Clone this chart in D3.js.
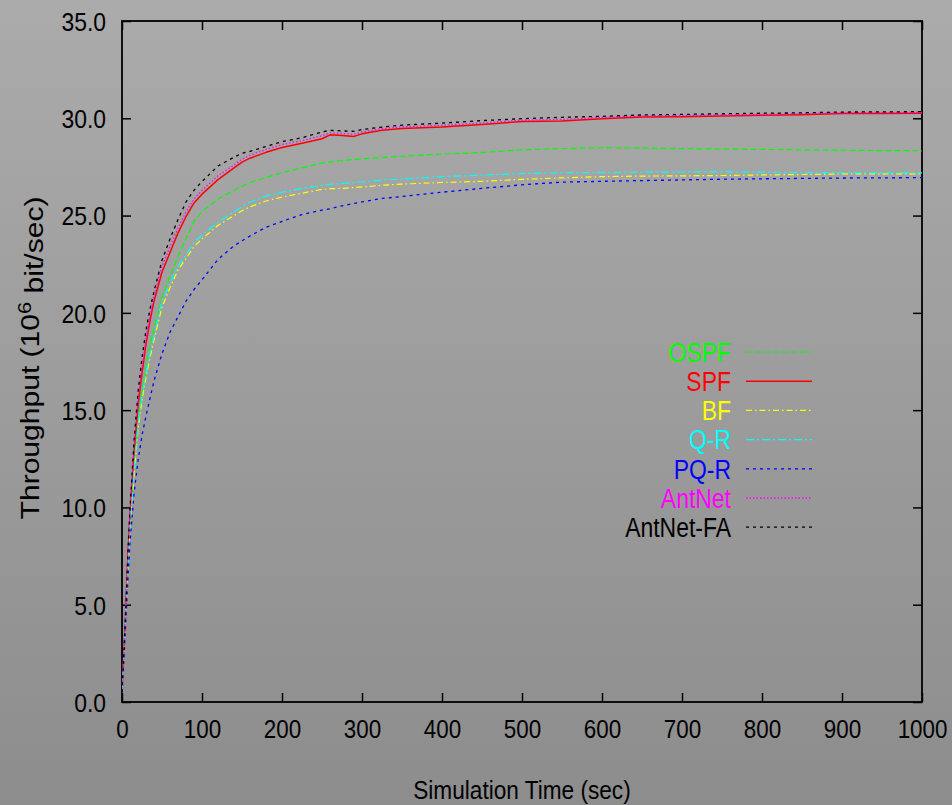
<!DOCTYPE html>
<html><head><meta charset="utf-8">
<script src="https://cdn.jsdelivr.net/npm/d3@7"></script>
<style>html,body{margin:0;padding:0;background:#9c9c9c;} svg{display:block}</style>
</head><body><svg id="chart" width="952" height="805"></svg>
<script>
// ---- data ----
const times = [0,2.5,5,7.5,10,15,20,25,30,35,40,50,60,70,80,90,100,120,140,150,160,180,200,225,250,260,275,290,300,325,350,400,450,500,550,600,650,700,750,800,850,900,950,1000];
const ospf = [0.5,2.6,4.9,7.3,9.3,12.2,14.5,16.0,17.3,18.3,19.2,20.8,21.9,22.9,23.8,24.7,25.2,25.85,26.3,26.5,26.7,26.95,27.2,27.45,27.7,27.75,27.83,27.88,27.92,27.98,28.05,28.16,28.24,28.38,28.44,28.49,28.47,28.44,28.42,28.4,28.38,28.36,28.34,28.33];
const spf = [0.5,2.6,5.0,7.6,9.6,12.8,15.2,16.9,18.4,19.6,20.6,22.1,23.1,24.1,24.95,25.65,26.1,26.85,27.45,27.75,27.95,28.25,28.5,28.72,28.95,29.15,29.12,29.07,29.2,29.38,29.48,29.55,29.68,29.83,29.86,29.97,30.07,30.08,30.12,30.16,30.18,30.24,30.25,30.26];
const bf = [0.5,2.4,4.7,6.9,8.9,11.6,14.0,15.5,16.7,17.7,18.6,20.3,21.3,22.2,22.8,23.4,23.8,24.5,25.0,25.25,25.45,25.75,25.95,26.15,26.35,26.38,26.4,26.44,26.47,26.56,26.62,26.7,26.76,26.86,26.94,27.0,27.03,27.04,27.06,27.09,27.11,27.14,27.14,27.14];
const qr = [0.5,2.5,4.8,7.0,9.0,11.8,14.2,15.7,16.9,17.9,18.8,20.6,21.5,22.4,23.0,23.6,24.0,24.65,25.2,25.45,25.7,26.0,26.2,26.4,26.55,26.6,26.65,26.7,26.73,26.82,26.88,27.0,27.08,27.16,27.2,27.22,27.23,27.24,27.25,27.23,27.22,27.2,27.19,27.19];
const pqr = [0.5,2.3,4.4,6.4,8.2,10.7,12.4,13.7,14.7,15.6,16.5,17.9,19.0,19.8,20.6,21.2,21.7,22.75,23.45,23.7,23.95,24.4,24.7,25.05,25.28,25.35,25.5,25.62,25.7,25.88,25.98,26.2,26.4,26.58,26.72,26.76,26.8,26.83,26.87,26.89,26.91,26.93,26.94,26.95];
const antnet = [0.5,2.65,5.05,7.7,9.75,13.0,15.5,17.2,18.7,19.85,20.9,22.4,23.4,24.35,25.2,25.85,26.3,27.05,27.6,27.9,28.1,28.4,28.65,28.85,29.1,29.25,29.22,29.18,29.3,29.47,29.56,29.64,29.76,29.9,29.94,30.04,30.12,30.14,30.17,30.2,30.23,30.28,30.29,30.3];
const antnetFa = [0.5,2.7,5.1,7.8,9.9,13.4,15.9,17.7,19.1,20.2,21.1,22.7,23.8,24.8,25.7,26.3,26.75,27.55,28.0,28.2,28.3,28.55,28.8,29.0,29.3,29.38,29.35,29.33,29.42,29.55,29.65,29.75,29.88,29.98,30.05,30.1,30.17,30.2,30.23,30.26,30.28,30.32,30.33,30.34];
const seriesNames = ["OSPF","SPF","BF","Q-R","PQ-R","AntNet","AntNet-FA"];
const seriesValues = [ospf, spf, bf, qr, pqr, antnet, antnetFa];
const xTicks = [0,100,200,300,400,500,600,700,800,900,1000];
const yTicks = [0,5,10,15,20,25,30,35];

// ---- styles ----
const seriesColors = ["#00ff00","#ff0000","#ffff00","#00ffff","#0000ff","#ff00ff","#000000"];
const seriesDash = ["6,3", null, "6,3,1.5,3", "8,3,2,3", "3,4", "1.5,2", "3,4"];
const seriesWidth = [1.2,1.5,1.2,1.2,1.3,1.3,1.3];
const FONT = "'Liberation Sans', Arial, Helvetica, sans-serif";

const svg = d3.select("#chart");
const W = 952, H = 805;
const M = {left:122, right:922, top:21, bottom:702};

const defs = svg.append("defs");
const grad = defs.append("linearGradient").attr("id","bg").attr("x1",0).attr("y1",0).attr("x2",0).attr("y2",1);
grad.append("stop").attr("offset","0%").attr("stop-color","#ababab");
grad.append("stop").attr("offset","100%").attr("stop-color","#8d8d8d");
svg.append("rect").attr("width",W).attr("height",H).attr("fill","url(#bg)");
defs.append("clipPath").attr("id","clip").append("rect")
  .attr("x",M.left).attr("y",M.top-2).attr("width",M.right-M.left).attr("height",M.bottom-M.top+2);

const x = d3.scaleLinear().domain([0,1000]).range([M.left,M.right]);
const y = d3.scaleLinear().domain([0,35]).range([M.bottom,M.top]);

function squeeze(sel, f){
  sel.each(function(){
    const w = this.getComputedTextLength();
    d3.select(this).attr("textLength", w*f).attr("lengthAdjust","spacingAndGlyphs");
  });
}

const TS = 9;
const gx = svg.append("g").attr("transform",`translate(0,${M.bottom})`)
  .call(d3.axisBottom(x).tickValues(xTicks).tickFormat(d3.format("d")).tickSize(-TS).tickSizeOuter(0).tickPadding(18));
const gy = svg.append("g").attr("transform",`translate(${M.left},0)`)
  .call(d3.axisLeft(y).tickValues(yTicks).tickFormat(d3.format(".1f")).tickSize(-TS).tickSizeOuter(0).tickPadding(16));
const gxt = svg.append("g").attr("transform",`translate(0,${M.top})`)
  .call(d3.axisTop(x).tickValues(xTicks).tickFormat("").tickSize(-TS).tickSizeOuter(0));
const gyr = svg.append("g").attr("transform",`translate(${M.right},0)`)
  .call(d3.axisRight(y).tickValues(yTicks).tickFormat("").tickSize(-TS).tickSizeOuter(0));
[gx,gy,gxt,gyr].forEach(g=>{
  g.select(".domain").remove();
  g.selectAll(".tick line").attr("stroke","#000").attr("stroke-width",1.5);
  g.selectAll("text").attr("fill","#000").style("font-family",FONT).style("font-size","26px");
});
gy.selectAll(".tick text").attr("dy","0.36em");
squeeze(gx.selectAll(".tick text"), 0.86);
squeeze(gy.selectAll(".tick text"), 0.88);

svg.append("rect").attr("x",M.left).attr("y",M.top).attr("width",M.right-M.left).attr("height",M.bottom-M.top)
  .attr("fill","none").attr("stroke","#000").attr("stroke-width",1.8);

const line = d3.line().x((d,i)=>x(times[i])).y(d=>y(d));
const plot = svg.append("g").attr("clip-path","url(#clip)");
seriesValues.forEach((vals,k)=>{
  plot.append("path").datum(vals).attr("d",line).attr("fill","none")
    .attr("stroke",seriesColors[k]).attr("stroke-width",seriesWidth[k])
    .attr("stroke-dasharray",seriesDash[k]).attr("stroke-linejoin","round");
});

const leg = svg.append("g");
seriesNames.forEach((n,k)=>{
  const yy = 352 + k*29.2;
  const t = leg.append("text").attr("x",731).attr("y",yy).attr("dy","0.36em").attr("text-anchor","end")
    .attr("fill",seriesColors[k]).style("font-family",FONT).style("font-size","27px").text(n);
  squeeze(t, 0.85);
  leg.append("line").attr("x1",746).attr("x2",812).attr("y1",yy).attr("y2",yy)
    .attr("stroke",seriesColors[k]).attr("stroke-width",seriesWidth[k]).attr("stroke-dasharray",seriesDash[k]);
});

const xt = svg.append("text").attr("x",(M.left+M.right)/2).attr("y",790).attr("dy","0.36em").attr("text-anchor","middle")
  .style("font-family",FONT).style("font-size","26px").attr("fill","#000").text("Simulation Time (sec)");
squeeze(xt, 0.87);

const ytg = svg.append("g").attr("transform","translate(30,358) rotate(-90)");
const yt = ytg.append("text").attr("x",0).attr("y",0).attr("dy","0.36em").attr("text-anchor","middle")
  .style("font-family",FONT).style("font-size","26px").attr("fill","#000");
yt.append("tspan").text("Throughput (10");
yt.append("tspan").attr("dy","-0.45em").style("font-size","19px").text("6");
yt.append("tspan").attr("dy","0.45em").text(" bit/sec)");
const bw = yt.node().getBBox().width;
ytg.attr("transform",`translate(30,358) rotate(-90) scale(${323/bw},1)`);
</script></body></html>
